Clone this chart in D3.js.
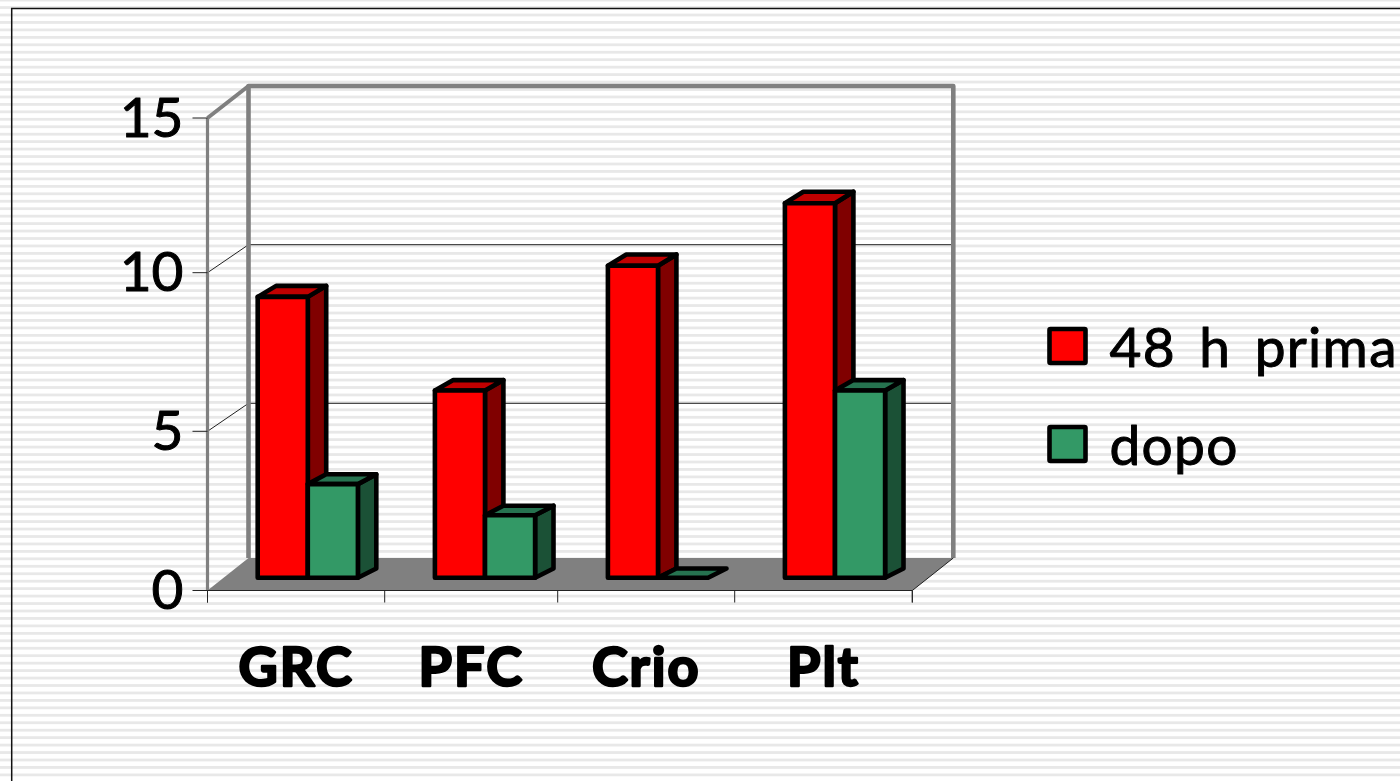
<!DOCTYPE html>
<html>
<head>
<meta charset="utf-8">
<title>48 h prima / dopo</title>
<script src="https://d3js.org/d3.v7.min.js"></script>
<style>
    html, body { margin: 0; padding: 0; background: #fff; overflow: hidden; }
    svg { display: block; }
    text { font-family: "Comic Sans MS", Lato, "Noto Sans", sans-serif; fill: #000; stroke: #000; stroke-linejoin: round; }
    .yLabel { font-size: 55px; stroke-width: 1px; }
    .catLabel { font-size: 54px; font-weight: 700; stroke-width: 2.5px; letter-spacing: 2px; }
    .legendLabel { font-size: 55px; stroke-width: 1px; letter-spacing: 1.3px; word-spacing: 8px; }
    .bar { stroke: #000; stroke-width: 4.6px; stroke-linejoin: round; }
    .wall { fill: none; stroke: #808080; stroke-linejoin: round; }
    .tick line, .gridLine { stroke: #222; stroke-width: 1px; }
</style>
</head>
<body>
<script>
//wrap everything in a self-executing anonymous function to move to local scope
(function(){

//chart data
var categories = ["GRC", "PFC", "Crio", "Plt"];
var prima = [9, 6, 10, 12];
var dopo = [3, 2, 0, 6];
var seriesNames = ["48 h prima", "dopo"];
var yTicks = [0, 5, 10, 15];

var width = 1400,
    height = 781;

var seriesColors = [
    {front: "#ff0000", top: "#c00000", side: "#800000"},
    {front: "#339966", top: "#267350", side: "#1b5136"}
];

//front and back planes of the 3D box; the original's tick spacing is not quite even
var yFront = d3.scaleLinear().domain(yTicks).range([590.5, 431.3, 272.7, 118]);
var yBack = d3.scaleLinear().domain(yTicks).range([558, 403.3, 244.7, 86]);
//slot edges along the floor, slot index -> x
var xFront = d3.scaleLinear().domain([0, 1, 2, 3, 4]).range([207.5, 384.7, 557.7, 734.7, 912.3]);
var depthX = 41;

//front and back face of the bars, which stand a little way in from the floor edge
var yBarFront = d3.scaleLinear().domain([0, 15]).range([577.7, 109.7]);
var yBarBack = d3.scaleLinear().domain([0, 15]).range([568.5, 97.5]);
var barInset = 50.2,
    barWidth = 50.1,
    barDepth = 18.4;

var line = d3.line();

var svg = d3.select("body")
    .append("svg")
    .attr("width", width)
    .attr("height", height);

setBackground();
setBox();
setAxes();
setBars();
setLegend();

//striped slide background with the thin black frame
function setBackground(){
    var pattern = svg.append("defs")
        .append("pattern")
        .attr("id", "stripes")
        .attr("patternUnits", "userSpaceOnUse")
        .attr("width", 20)
        .attr("height", 7.45)
        .attr("y", 13.6);
    pattern.append("rect")
        .attr("width", 20)
        .attr("height", 2.8)
        .attr("fill", "#e8e8e8");

    svg.append("rect")
        .attr("width", width)
        .attr("height", height)
        .attr("fill", "#fff");
    svg.append("rect")
        .attr("width", width)
        .attr("height", height)
        .attr("fill", "url(#stripes)");

    svg.append("path")
        .attr("d", line([[11.7, height], [11.7, 8.5], [width, 8.5]]))
        .attr("fill", "none")
        .attr("stroke", "#111")
        .attr("stroke-width", 1.5);
};

//floor, walls and gridlines
function setBox(){
    var x0 = xFront(0),
        x1 = xFront(4),
        bottom = yFront(0);

    svg.append("path")
        .attr("d", line([[x0, bottom], [x0 + depthX, yBack(0)], [x1 + depthX, yBack(0)], [x1, bottom]]) + "Z")
        .attr("fill", "#808080");

    //gridlines on the back and side walls
    yTicks.slice(1, 3).forEach(function(t){
        svg.append("path")
            .attr("class", "gridLine")
            .attr("fill", "none")
            .attr("d", line([[x0, yFront(t)], [x0 + depthX, yBack(t)], [x1 + depthX, yBack(t)]]));
    });

    svg.append("path")
        .attr("class", "wall")
        .attr("stroke-width", 4.6)
        .attr("d", line([[x0 + depthX, yBack(0)], [x0 + depthX, yBack(15)], [x1 + depthX, yBack(15)], [x1 + depthX, yBack(0)]]));
    svg.append("path")
        .attr("class", "wall")
        .attr("stroke-width", 3.2)
        .attr("d", line([[x0, bottom], [x0, yFront(15)]]));
    svg.append("path")
        .attr("class", "wall")
        .attr("stroke-width", 4)
        .attr("d", line([[x0, yFront(15)], [x0 + depthX, yBack(15)]]));
    svg.append("path")
        .attr("class", "gridLine")
        .attr("fill", "none")
        .attr("d", line([[x1, bottom], [x1 + depthX, yBack(0)]]));
};

function setAxes(){
    var yAxis = d3.axisLeft(yFront)
        .tickValues(yTicks)
        .tickSize(15)
        .tickPadding(9)
        .offset(0);
    var yGroup = svg.append("g")
        .attr("transform", "translate(" + xFront(0) + ",0)")
        .call(yAxis);
    yGroup.select(".domain").remove();
    yGroup.selectAll("text")
        .attr("class", "yLabel")
        .attr("font-family", null)
        .attr("font-size", null)
        .attr("dy", "0.34em");

    var xAxis = d3.axisBottom(xFront)
        .tickValues(d3.range(categories.length + 1))
        .tickSize(12)
        .tickFormat("")
        .offset(0);
    var xGroup = svg.append("g")
        .attr("transform", "translate(0," + yFront(0) + ")")
        .call(xAxis);
    xGroup.select(".domain")
        .attr("stroke", "#222");

    //category names sit in the middle of each slot, not under a tick
    svg.selectAll(".catLabel")
        .data(categories)
        .enter()
        .append("text")
        .attr("class", "catLabel")
        .attr("text-anchor", "middle")
        .attr("x", function(d, i){ return xFront(i + 0.5); })
        .attr("y", 686)
        .text(function(d){ return d; });
};

//each bar is three polygons: side, top, front
function drawBar(left, value, colors){
    var right = left + barWidth,
        yf = yBarFront(value),
        yb = yBarBack(value),
        yf0 = yBarFront(0),
        yb0 = yBarBack(0);

    if (value > 0){
        svg.append("path")
            .attr("class", "bar")
            .attr("fill", colors.side)
            .attr("d", line([[right, yf], [right + barDepth, yb], [right + barDepth, yb0], [right, yf0]]) + "Z");
    };
    svg.append("path")
        .attr("class", "bar")
        .attr("fill", colors.top)
        .attr("d", line([[left, yf], [left + barDepth, yb], [right + barDepth, yb], [right, yf]]) + "Z");
    if (value > 0){
        svg.append("path")
            .attr("class", "bar")
            .attr("fill", colors.front)
            .attr("d", line([[left, yf], [right, yf], [right, yf0], [left, yf0]]) + "Z");
    };
};

function setBars(){
    categories.forEach(function(c, i){
        var left = xFront(i) + barInset;
        drawBar(left, prima[i], seriesColors[0]);
        drawBar(left + barWidth, dopo[i], seriesColors[1]);
    });
};

function setLegend(){
    var legendY = d3.scalePoint()
        .domain(seriesNames)
        .range([346, 444]);

    var items = svg.selectAll(".legendItem")
        .data(seriesNames)
        .enter()
        .append("g")
        .attr("class", "legendItem")
        .attr("transform", function(d){ return "translate(1049.5," + legendY(d) + ")"; });

    items.append("rect")
        .attr("class", "bar")
        .attr("y", -17)
        .attr("width", 36)
        .attr("height", 34)
        .attr("rx", 1)
        .attr("fill", function(d, i){ return seriesColors[i].front; });

    items.append("text")
        .attr("class", "legendLabel")
        .attr("x", 60)
        .attr("y", 21)
        .text(function(d){ return d; });
};

})();
</script>
</body>
</html>
